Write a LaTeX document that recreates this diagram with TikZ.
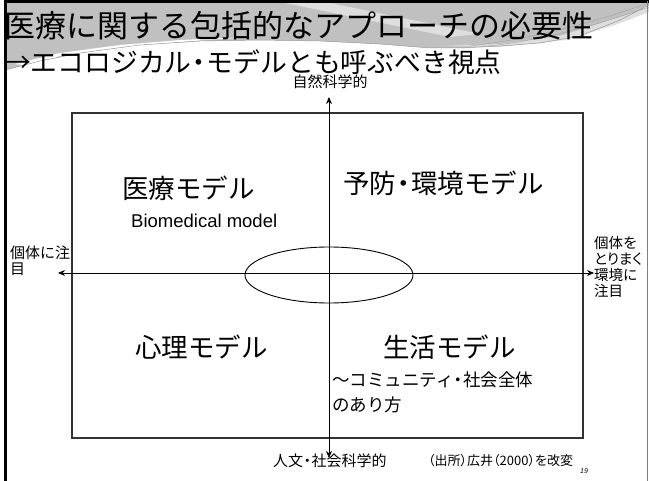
\documentclass[tikz,border=0pt]{standalone}
\usepackage{fontspec}
\setmainfont{Liberation Sans}
\newfontfamily\jp{Noto Sans CJK JP}
\newfontfamily\jpp[RawFeature=+palt]{Noto Sans CJK JP}
\newcommand\nk{\kern-0.22em・\kern-0.22em}
\usetikzlibrary{arrows.meta}
\definecolor{swg}{RGB}{192,192,192}
\definecolor{swl}{RGB}{222,222,222}
\begin{document}
\begin{tikzpicture}[x=1pt,y=-1pt,
  axis/.style={line width=0.8pt,-{Stealth[length=7pt,width=6pt]}},
  quad/.style={font=\jp\fontsize{26.5}{26.5}\selectfont},
  small/.style={font=\jp\fontsize{15}{16}\selectfont, align=left},
  mid/.style={font=\jp\fontsize{17.5}{25}\selectfont, align=left}]
\useasboundingbox (0,0) rectangle (649,481);
% decorative swoosh
\fill[swg] (5,3) -- (649,3) -- (649,5) -- (620,20) -- (580,36) -- (540,43) -- (500,46)
  -- (460,48) -- (430,48) -- (380,44) -- (320,41) -- (260,40) -- (200,41) -- (140,45)
  -- (80,53) -- (40,61) -- (5,70) -- cycle;
\fill[swl] (285,3) -- (330,3) -- (480,34) -- (450,37) -- cycle;
\fill[white] (15,64) -- (60,53) -- (120,45) -- (180,40) -- (250,37) -- (180,42) -- (120,48) -- (60,56) -- (30,66) -- cycle;
\fill[swl] (440,46) -- (500,44) -- (560,36) -- (610,20) -- (649,7) -- (649,12) -- (615,25) -- (565,40) -- (500,47) -- cycle;
\draw[gray!80, line width=0.5pt] (5,70) -- (40,61) -- (80,53) -- (140,45) -- (200,41) -- (260,40)
  -- (320,41) -- (380,44) -- (430,48) -- (460,48) -- (500,46) -- (540,43) -- (580,36) -- (620,20) -- (649,5);
\draw[gray!75, line width=0.4pt] (470,46) .. controls (540,38) and (600,20) .. (649,3);
\draw[gray!75, line width=0.4pt] (480,47) .. controls (550,40) and (605,22) .. (649,7);
% frame
\draw[line width=3pt] (5.5,481) -- (5.5,1.5) -- (649,1.5);
\draw[gray, line width=1pt] (647.5,1.5) -- (647.5,481);
% titles
\node[anchor=west, inner sep=0, font=\jp\fontsize{31}{31}\selectfont] (title) at (4,26) {医療に関する包括的なアプローチの必要性};
\node[anchor=west, inner sep=0, font=\jp\fontsize{26.8}{26.8}\selectfont] (sub) at (4,62) {→エコロジカル\nk モデルとも呼ぶべき視点};
% rectangle
\node[draw=black!80, line width=1.8pt, minimum width=511pt, minimum height=325pt, inner sep=0] (box) at (327.5,275.5) {};
% axes
\coordinate (top) at (329,97);
\coordinate (bot) at (329,458);
\coordinate (ctr) at (329,273);
\coordinate (lft) at (58,273);
\coordinate (rgt) at (594,273);
\draw[axis] (ctr) -- (top);
\draw[axis] (ctr) -- (bot);
\draw[axis] (ctr) -- (lft);
\draw[axis] (ctr) -- (rgt);
\draw[line width=0.9pt] (329,275) ellipse (84pt and 28pt);
% labels
\node[small, inner sep=0] (ns) at (330,82) {自然科学的};
\node[small, inner sep=0, anchor=west] (hs) at (273,461) {人文\nk 社会科学的};
\node[inner sep=0, anchor=west, font=\jpp\fontsize{13}{13}\selectfont] (src) at (428,461) {（出所）広井（2000）を改変};
\node[inner sep=0, font=\fontsize{7}{7}\selectfont\itshape, anchor=west] (pg) at (580,471) {19};
\node[small, inner sep=0, anchor=north west, align=left] (kl) at (10,246) {個体に注\\目};
\node[inner sep=0, anchor=north west, align=left, font=\jpp\fontsize{14.5}{16}\selectfont] (kr) at (594,236) {個体を\\とりまく\\環境に\\注目};
\node[quad, inner sep=0, anchor=west] (med) at (122,188) {医療モデル};
\node[inner sep=0, anchor=west, font=\fontsize{18.5}{18.5}\selectfont] (bio) at (131,221) {Biomedical model};
\node[quad, inner sep=0, anchor=west] (prev) at (343,183) {予防\nk 環境モデル};
\node[quad, inner sep=0, anchor=west] (psy) at (135,347) {心理モデル};
\node[quad, inner sep=0, anchor=west] (life) at (383,347) {生活モデル};
\node[mid, inner sep=0, anchor=north west] (comm) at (332,372) {～コミュニティ\nk 社会全体\\のあり方};
\end{tikzpicture}
\end{document}
